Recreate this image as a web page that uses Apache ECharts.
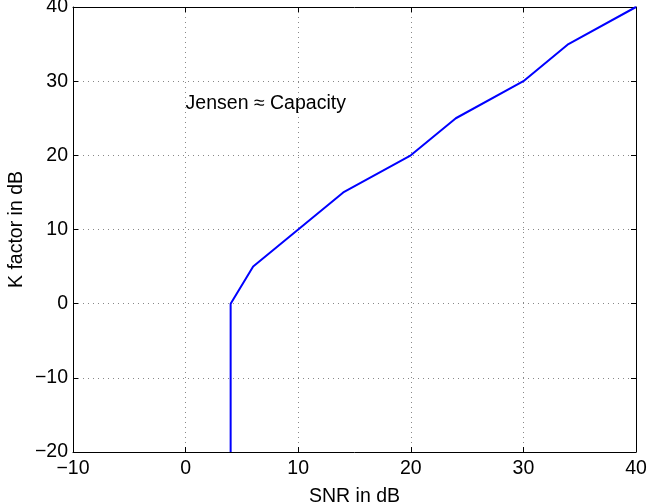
<!DOCTYPE html>
<html><head><meta charset="utf-8">
<script src="https://cdn.jsdelivr.net/npm/echarts@6/dist/echarts.min.js"></script>
<style>html,body{margin:0;padding:0;background:#fff}#c{width:648px;height:503px}</style>
</head><body><div id="c"></div>
<script>
const snr = [4, 4, 6, 14, 20, 24, 30, 34, 40];
const kfactor = [-20, 0, 5, 15, 20, 25, 30, 35, 40];
const annotation = { x: 0, y: 27, text: 'Jensen \u2248 Capacity' };
const xLabel = 'SNR in dB';
const yLabel = 'K factor in dB';

const font = 'Liberation Sans, Arial, Helvetica, sans-serif';
const fs = 19.5;
const chart = echarts.init(document.getElementById('c'));
const minus = v => String(v).replace('-', '\u2212');
const baseAxis = {
  axisLine: { show: true, onZero: false, lineStyle: { color: '#000', width: 1 } },
  axisTick: { show: true, inside: true, length: 5, lineStyle: { color: '#000' } },
  splitLine: { show: false }
};
chart.setOption({
  animation: false,
  grid: { left: 73, right: 12, top: 7, bottom: 51, containLabel: false, outerBoundsMode: 'none' },
  xAxis: [
    Object.assign({}, baseAxis, {
      type: 'value', min: -10, max: 40, interval: 10, position: 'bottom',
      name: xLabel, nameLocation: 'middle', nameGap: 35, nameMoveOverlap: false,
      nameTextStyle: { fontFamily: font, fontSize: fs, color: '#000' },
      axisLabel: { fontFamily: font, fontSize: fs, color: '#000', margin: 7, formatter: minus },
      splitLine: { show: true, lineStyle: { color: '#888', type: [1, 4], width: 1 } }
    }),
    Object.assign({}, baseAxis, {
      type: 'value', min: -10, max: 40, interval: 10, position: 'top',
      axisLabel: { show: false }
    })
  ],
  yAxis: [
    Object.assign({}, baseAxis, {
      type: 'value', min: -20, max: 40, interval: 10, position: 'left',
      name: yLabel, nameLocation: 'middle', nameGap: 46, nameMoveOverlap: false,
      nameTextStyle: { fontFamily: font, fontSize: fs, color: '#000' },
      axisLabel: { fontFamily: font, fontSize: fs, color: '#000', margin: 5, formatter: minus },
      splitLine: { show: true, lineStyle: { color: '#888', type: [1, 4], width: 1 } }
    }),
    Object.assign({}, baseAxis, {
      type: 'value', min: -20, max: 40, interval: 10, position: 'right',
      axisLabel: { show: false }
    })
  ],
  series: [
    {
      type: 'line', xAxisIndex: 0, yAxisIndex: 0,
      data: snr.map((x, i) => [x, kfactor[i]]),
      showSymbol: false, symbol: 'none',
      lineStyle: { color: '#0000ff', width: 2 }
    },
    {
      type: 'scatter', xAxisIndex: 0, yAxisIndex: 0,
      data: [[annotation.x, annotation.y]], symbolSize: 0,
      itemStyle: { opacity: 1 },
      label: { show: true, position: 'right', distance: 0, formatter: annotation.text,
        fontFamily: font, fontSize: fs, color: '#000', opacity: 1 }
    }
  ]
});
</script></body></html>
